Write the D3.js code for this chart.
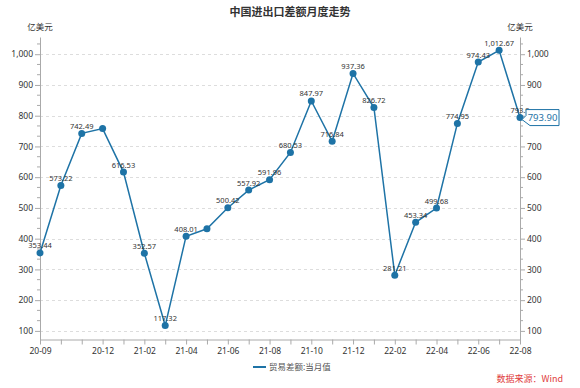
<!DOCTYPE html>
<html>
<head>
<meta charset="utf-8">
<script src="https://cdn.jsdelivr.net/npm/d3@7"></script>
<style>
  body { margin: 0; background: #fff; }
  text { font-family: "Noto Sans CJK SC", "Noto Sans", sans-serif; }
</style>
</head>
<body>
<div class="chart-holder"></div>
<script>
const months = ["20-09","20-10","20-11","20-12","21-01","21-02","21-03","21-04","21-05","21-06","21-07","21-08",
  "21-09","21-10","21-11","21-12","22-01","22-02","22-03","22-04","22-05","22-06","22-07","22-08"];
const balance = [353.44,573.22,742.49,758,616.53,352.57,117.32,408.01,432,500.42,557.92,591.96,
  680.53,847.97,716.84,937.36,826.72,281.21,453.34,499.68,774.95,974.43,1012.67,793.90];
const showLabel = [1,1,1,0,1,1,1,1,0,1,1,1,1,1,1,1,1,1,1,1,1,1,1,1];
const xLabels = ["20-09","20-12","21-02","21-04","21-06","21-08","21-10","21-12","22-02","22-04","22-06","22-08"];
const yTicks = [100,200,300,400,500,600,700,800,900,1000];

const width = 580, height = 388;
const blue = "#1e73a6";

const svg = d3.select(".chart-holder").append("svg")
  .attr("width", width).attr("height", height);

const x = d3.scalePoint().domain(months).range([40, 520]);
const y = d3.scaleLinear().domain([72, 1056]).range([339.5, 37]);
const fmt = d3.format(",");

// title
svg.append("text").attr("x", 290).attr("y", 16).attr("text-anchor", "middle")
  .attr("font-size", 11).attr("font-weight", "bold").attr("fill", "#333")
  .text("中国进出口差额月度走势");

svg.append("text").attr("x", 40).attr("y", 30).attr("text-anchor", "middle")
  .attr("font-size", 8.5).attr("fill", "#333").text("亿美元");
svg.append("text").attr("x", 520).attr("y", 30).attr("text-anchor", "middle")
  .attr("font-size", 8.5).attr("fill", "#333").text("亿美元");

// grid
svg.append("g").selectAll("line").data(yTicks).join("line")
  .attr("x1", 40).attr("x2", 520)
  .attr("y1", d => Math.round(y(d)) + 0.5).attr("y2", d => Math.round(y(d)) + 0.5)
  .attr("stroke", "#ddd").attr("stroke-dasharray", "3,3");

// minor ticks (thirds between majors)
const minor = [];
for (let v = 100 - 200 / 3; v < 1056; v += 100 / 3) {
  if (Math.abs(v / 100 - Math.round(v / 100)) > 0.01 && v > 72) minor.push(v);
}

function styleAxis(g) {
  g.select(".domain").attr("stroke", "#aaa");
  g.selectAll(".tick line").attr("stroke", "#aaa");
  g.selectAll(".tick text").attr("fill", "#333").attr("font-size", 8.5)
    .style("font-family", "'Noto Sans', sans-serif");
}

const yLeft = svg.append("g").attr("transform", "translate(40,0)")
  .call(d3.axisLeft(y).tickValues(yTicks).tickFormat(fmt).tickSize(5).tickSizeOuter(0).tickPadding(2))
  .call(styleAxis);
yLeft.selectAll(".minor").data(minor).join("line").attr("class", "minor")
  .attr("x1", -3).attr("x2", 0).attr("y1", d => y(d)).attr("y2", d => y(d)).attr("stroke", "#aaa");

const yRight = svg.append("g").attr("transform", "translate(520,0)")
  .call(d3.axisRight(y).tickValues(yTicks).tickFormat(fmt).tickSize(5).tickSizeOuter(0).tickPadding(2))
  .call(styleAxis);
yRight.selectAll(".minor").data(minor).join("line").attr("class", "minor")
  .attr("x1", 0).attr("x2", 3).attr("y1", d => y(d)).attr("y2", d => y(d)).attr("stroke", "#aaa");

svg.append("g").attr("transform", "translate(0,339.5)")
  .call(d3.axisBottom(x).tickSize(5).tickSizeOuter(0).tickPadding(3)
    .tickFormat(d => xLabels.includes(d) ? d : ""))
  .call(styleAxis);

// line
const line = d3.line().x((d, i) => x(months[i])).y(d => y(d));
svg.append("path").datum(balance).attr("d", line)
  .attr("fill", "none").attr("stroke", blue).attr("stroke-width", 1.5);

svg.append("g").selectAll("circle").data(balance).join("circle")
  .attr("cx", (d, i) => x(months[i])).attr("cy", d => y(d)).attr("r", 3.5)
  .attr("fill", blue);

svg.append("g").selectAll("text").data(balance.map((v, i) => ({ v, i })).filter(d => showLabel[d.i]))
  .join("text")
  .attr("x", d => x(months[d.i])).attr("y", d => y(d.v) - 4.5)
  .attr("text-anchor", "middle").attr("font-size", 7.5).attr("fill", "#333")
  .style("font-family", "'Noto Sans', sans-serif")
  .text(d => d.i === 23 ? "793.9" : fmt(d.v));

// tooltip at last point
const lx = x(months[23]), ly = y(balance[23]);
const tip = svg.append("g");
tip.append("path")
  .attr("d", `M${lx + 6},${ly - 8}H${lx + 39}V${ly + 8}H${lx + 10}L${lx + 2},${ly + 2}L${lx + 6},${ly - 2}Z`)
  .attr("fill", "#fff").attr("stroke", blue).attr("stroke-width", 1);
tip.append("text").attr("x", lx + 22.5).attr("y", ly + 3.5).attr("text-anchor", "middle")
  .attr("font-size", 9.5).attr("fill", blue).style("font-family", "'Noto Sans', sans-serif")
  .text(balance[23].toFixed(2));

// legend
svg.append("line").attr("x1", 253).attr("x2", 266).attr("y1", 367).attr("y2", 367)
  .attr("stroke", blue).attr("stroke-width", 2);
svg.append("text").attr("x", 269).attr("y", 370).attr("font-size", 8.5).attr("fill", "#555")
  .text("贸易差额:当月值");

// source
svg.append("text").attr("x", 563).attr("y", 382).attr("text-anchor", "end")
  .attr("font-size", 9).attr("fill", "#e03c3c").text("数据来源：Wind");
</script>
</body>
</html>
